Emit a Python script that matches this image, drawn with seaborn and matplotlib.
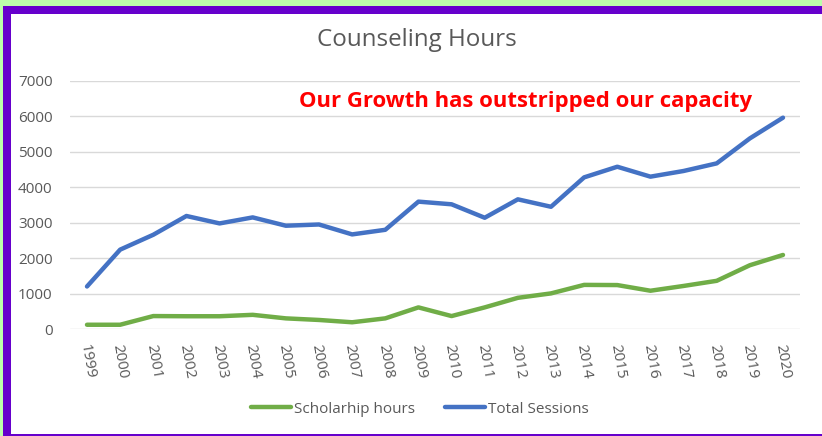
import numpy as np
import pandas as pd
import matplotlib.pyplot as plt
import seaborn as sns
from matplotlib.patches import Rectangle
from matplotlib.lines import Line2D

# data
years = list(range(1999, 2021))
scholarship_hours = [120, 120, 365, 360, 360, 400, 300, 255, 190, 300, 610, 365,
                     610, 880, 1005, 1245, 1240, 1080, 1215, 1360, 1800, 2090]
total_sessions = [1200, 2240, 2660, 3190, 2980, 3150, 2915, 2950, 2670, 2800, 3595, 3520,
                  3140, 3660, 3450, 4280, 4580, 4300, 4460, 4675, 5380, 5965]
series_names = ["Scholarhip hours", "Total Sessions"]

df = pd.DataFrame({"year": years * 2,
                   "value": scholarship_hours + total_sessions,
                   "series": [series_names[0]] * len(years) + [series_names[1]] * len(years)})

sns.set_theme(style="white")
plt.rcParams['font.family'] = ['Open Sans', 'DejaVu Sans']

W, H = 822, 436
fig = plt.figure(figsize=(W / 100, H / 100), dpi=100, facecolor="#bcffaa")

# border boxes
fig.patches.append(Rectangle((3 / W, 0), 819 / W, 430 / H, transform=fig.transFigure,
                             facecolor="#6600cc", edgecolor="none", zorder=-3))
fig.patches.append(Rectangle((11 / W, 2 / H), 811 / W, 420 / H, transform=fig.transFigure,
                             facecolor="white", edgecolor="none", zorder=-2))

ax = fig.add_axes([70 / W, (H - 329) / H, 730 / W, 248 / H])
ax.set_facecolor("none")
ax.set_zorder(1)

sns.lineplot(data=df, x="year", y="value", hue="series", ax=ax,
             palette=["#70ad47", "#4472c4"], linewidth=3.2, legend=False)

ax.set_ylim(0, 7000)
ax.set_yticks(range(0, 7001, 1000))
ax.set_xlim(1999 - 17 / 33.14, 2020 + 17 / 33.14)
ax.set_xticks(years)
ax.set_xticklabels([str(y) for y in years], rotation=-80)
ax.tick_params(axis="both", length=0, labelsize=11, labelcolor="#595959")
ax.tick_params(axis="y", pad=12.5)
ax.tick_params(axis="x", pad=10)
ax.set_xlabel("")
ax.set_ylabel("")
ax.grid(axis="y", color="#d9d9d9", linewidth=1)
ax.set_axisbelow(True)
for s in ax.spines.values():
    s.set_visible(False)

fig.text(417 / W, (H - 40) / H, "Counseling Hours", ha="center", va="center",
         fontsize=17.4, color="#595959")
fig.text(299 / W, (H - 101) / H, "Our Growth has outstripped our capacity", ha="left",
         va="center", fontsize=15.9, fontweight="bold", color="#ff0000")

# legend
handles = [Line2D([], [], color="#70ad47", linewidth=3.2),
           Line2D([], [], color="#4472c4", linewidth=3.2)]
fig.legend(handles, series_names, loc="center", bbox_to_anchor=(420 / W, (H - 409) / H),
           ncol=2, frameon=False, fontsize=11, labelcolor="#595959",
           handlelength=2.6, handletextpad=0.2, columnspacing=2.0)

fig.savefig("out.png", dpi=100, facecolor=fig.get_facecolor())
